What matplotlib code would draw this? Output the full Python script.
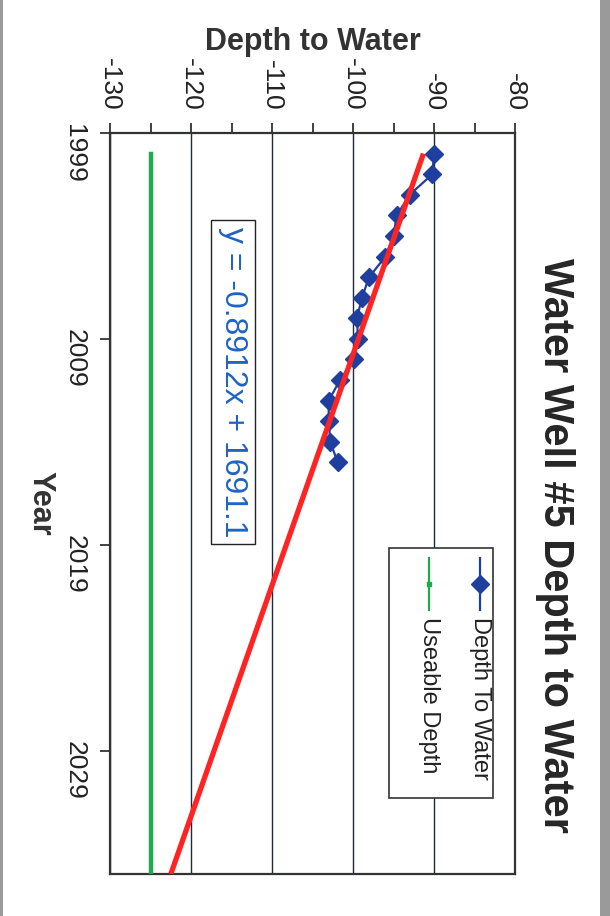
import matplotlib
matplotlib.use("Agg")
import matplotlib.pyplot as plt
from matplotlib.patches import Rectangle
from matplotlib.lines import Line2D
from matplotlib.ticker import MultipleLocator

plt.rcParams['font.family'] = ['Liberation Sans', 'DejaVu Sans']
plt.rcParams['axes.unicode_minus'] = False

years = [2000, 2001, 2002, 2003, 2004, 2005, 2006, 2007, 2008, 2009, 2010,
         2011, 2012, 2013, 2014, 2015]
depth = [-90.0, -90.2, -93.0, -94.6, -95.0, -96.0, -98.0, -98.9, -99.5, -99.4,
         -99.9, -101.6, -103.0, -103.0, -102.8, -101.9]

useable_years = [2000, 2035]
useable_depth = [-125, -125]

# excel linear trendline
slope = -0.8912
intercept = 1691.1
trend_years = [2000, 2035]
trend_depth = [slope * y + intercept for y in trend_years]

year_ticks = [1999, 2009, 2019, 2029]
depth_ticks = [-130, -120, -110, -100, -90, -80]

fig = plt.figure(figsize=(6.1, 9.16), dpi=100)
ax = fig.add_axes([110/610, 1-874/916, 405/610, 741/916])

# the chart is turned 90 degrees: depth runs across, years run down
ax.plot(useable_depth, useable_years, color='#1faa4f', lw=3.2, zorder=3)
ax.plot(depth, years, color='#1f3f9f', lw=1.6, marker='D', ms=9, zorder=4)
ax.plot(trend_depth, trend_years, color='#ff2424', lw=3.8, zorder=5,
        solid_capstyle='butt')

ax.set_xlim(-130, -80)
ax.set_ylim(2035, 1999)
ax.set_xticks(depth_ticks)
ax.xaxis.set_minor_locator(MultipleLocator(5))
ax.set_yticks(year_ticks)
ax.xaxis.tick_top()
ax.xaxis.set_label_position('top')
ax.grid(axis='x', which='major', color='#1c2a3c', lw=1.0)
ax.set_axisbelow(True)

for s in ax.spines.values():
    s.set_color('#333333')
    s.set_linewidth(1.6)

ax.tick_params(axis='x', which='both', direction='out', length=7, width=1.3,
               color='#333333', labelsize=19, labelrotation=-90, pad=9,
               labelcolor='#222222')
ax.tick_params(axis='y', direction='out', length=7, width=1.3, color='#333333',
               labelsize=19, labelrotation=-90, pad=10, labelcolor='#222222')

ax.set_xlabel('Depth to Water', fontsize=22, fontweight='bold', color='#333333',
              labelpad=6)
ax.set_ylabel('Year', fontsize=22, fontweight='bold', color='#333333',
              rotation=-90, labelpad=16, va='center')

# trendline equation box
ax.text(-114.8, 2011.1, 'y = -0.8912x + 1691.1', rotation=-90, fontsize=23,
        color='#1f63c4', ha='center', va='center', zorder=6,
        bbox=dict(boxstyle='square,pad=0.22', fc='white', ec='#222222', lw=1))

# legend, drawn turned like the rest
ax.add_patch(Rectangle((0.689, 0.1026), 0.257, 0.3374, transform=ax.transAxes,
                       fc='white', ec='#333333', lw=1.2, zorder=7))
ax.add_line(Line2D([0.9136, 0.9136], [0.356, 0.4265], transform=ax.transAxes,
                   color='#1f3f9f', lw=1.6, zorder=8))
ax.add_line(Line2D([0.9136], [0.392], transform=ax.transAxes, color='#1f3f9f',
                   marker='D', ms=9, zorder=8))
ax.text(0.9136, 0.347, 'Depth To Water', transform=ax.transAxes, rotation=-90,
        fontsize=17, ha='center', va='top', zorder=8, color='#222222')
ax.add_line(Line2D([0.7877, 0.7877], [0.356, 0.4265], transform=ax.transAxes,
                   color='#1faa4f', lw=1.6, zorder=8))
ax.add_line(Line2D([0.7877], [0.392], transform=ax.transAxes, color='#1faa4f',
                   marker='s', ms=3.5, zorder=8))
ax.text(0.7877, 0.347, 'Useable Depth', transform=ax.transAxes, rotation=-90,
        fontsize=17, ha='center', va='top', zorder=8, color='#222222')

fig.text(555/610, 1-545/916, 'Water Well #5 Depth to Water', rotation=-90,
         fontsize=30, fontweight='bold', color='#262626', ha='center', va='center')

# scanned page edges
fig.patches.append(Rectangle((0, 0), 3/610, 1, transform=fig.transFigure,
                             fc='#9a9a9a', ec='none'))
fig.patches.append(Rectangle((600/610, 0), 10/610, 1, transform=fig.transFigure,
                             fc='#9a9a9a', ec='none'))

fig.savefig('out.png', dpi=100)
